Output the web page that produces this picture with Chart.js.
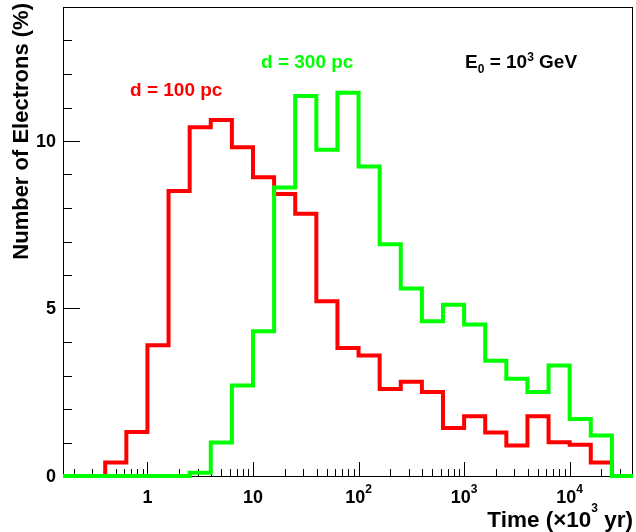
<!DOCTYPE html>
<html>
<head>
<meta charset="utf-8">
<script src="https://cdn.jsdelivr.net/npm/chart.js@4/dist/chart.umd.min.js"></script>
<style>
  html, body { margin: 0; padding: 0; background: #fff; }
  #wrap { width: 636px; height: 532px; }
</style>
</head>
<body>
<div id="wrap"><canvas id="chart" width="636" height="532"></canvas></div>
<script>
// bin edges as log10(time / 10^3 yr), 0.2 decade bins
const binEdgeExp = [-0.8, -0.6, -0.4, -0.2, 0.0, 0.2, 0.4, 0.6, 0.8, 1.0, 1.2, 1.4, 1.6, 1.8,
    2.0, 2.2, 2.4, 2.6, 2.8, 3.0, 3.2, 3.4, 3.6, 3.8, 4.0, 4.2, 4.4, 4.6];

// percent of electrons per bin
const red100pc = [0, 0, 0.40, 1.31, 3.90, 8.51, 10.41, 10.63, 9.81, 8.92, 8.42, 7.83, 5.22, 3.82,
    3.60, 2.60, 2.81, 2.51, 1.43, 1.78, 1.30, 0.91, 1.78, 1.01, 0.93, 0.40, 0];
const green300pc = [0, 0, 0, 0, 0, 0, 0.10, 1.00, 2.70, 4.32, 8.61, 11.34, 9.74, 11.44,
    9.24, 6.92, 5.60, 4.62, 5.11, 4.52, 3.44, 2.90, 2.51, 3.30, 1.70, 1.21, 0];

const xTickValues = [1, 10, 100, 1000, 10000];
const xTickLabels = [['1', ''], ['10', ''], ['10', '2'], ['10', '3'], ['10', '4']];
const yTickValues = [0, 5, 10];
const yMax = 14;

const FONT = "'Liberation Sans', Arial, Helvetica, sans-serif";

function toSteps(vals) {
    return binEdgeExp.map((e, i) => ({ x: Math.pow(10, e), y: vals[Math.min(i, vals.length - 1)] }));
}

// draw a run of text pieces: {t, size, dy}
function drawParts(ctx, parts, x, y, align) {
    let total = 0;
    parts.forEach(p => {
        ctx.font = `bold ${p.size}px ${FONT}`;
        p.w = ctx.measureText(p.t).width;
        total += p.w;
    });
    let cx = x;
    if (align === 'center') cx = x - total / 2;
    if (align === 'right') cx = x - total;
    ctx.textAlign = 'left';
    ctx.textBaseline = 'alphabetic';
    parts.forEach(p => {
        ctx.font = `bold ${p.size}px ${FONT}`;
        ctx.fillText(p.t, cx, y + (p.dy || 0));
        cx += p.w;
    });
}

const rootAxes = {
    id: 'rootAxes',
    beforeDatasetsDraw(chart) {
        const { ctx, chartArea: a, scales: { x, y } } = chart;
        ctx.save();
        ctx.strokeStyle = '#000';
        ctx.lineWidth = 1;
        ctx.strokeRect(a.left + 0.5, a.top + 0.5, a.right - a.left - 1, a.bottom - a.top);

        ctx.beginPath();
        for (let v = 0; v <= yMax; v++) {
            const py = Math.round(y.getPixelForValue(v)) + 0.5;
            const len = v % 5 === 0 ? 17 : 9;
            ctx.moveTo(a.left, py);
            ctx.lineTo(a.left + len, py);
        }
        for (let d = -1; d <= 4; d++) {
            for (let m = 1; m <= 9; m++) {
                const v = m * Math.pow(10, d);
                if (v < x.min || v > x.max) continue;
                const px = Math.round(x.getPixelForValue(v)) + 0.5;
                const len = m === 1 ? 14 : 7;
                ctx.moveTo(px, a.bottom);
                ctx.lineTo(px, a.bottom - len);
            }
        }
        ctx.stroke();
        ctx.restore();
    },
    afterDraw(chart) {
        const { ctx, chartArea: a, scales: { x, y } } = chart;
        ctx.save();
        ctx.fillStyle = '#000';

        // y tick labels
        ctx.font = `bold 18px ${FONT}`;
        ctx.textAlign = 'right';
        ctx.textBaseline = 'middle';
        yTickValues.forEach(v => {
            ctx.fillText(String(v), a.left - 7, y.getPixelForValue(v) + 1);
        });

        // x tick labels
        xTickValues.forEach((v, i) => {
            const [base, sup] = xTickLabels[i];
            const parts = [{ t: base, size: 18 }];
            if (sup) parts.push({ t: sup, size: 12, dy: -10 });
            drawParts(ctx, parts, x.getPixelForValue(v), a.bottom + 27, 'center');
        });

        // axis titles
        drawParts(ctx, [
            { t: 'Time (\u00d710', size: 22.5 },
            { t: '3', size: 12, dy: -15 },
            { t: ' yr)', size: 22.5 }
        ], a.right, 527, 'right');

        ctx.save();
        ctx.translate(28, 3);
        ctx.rotate(-Math.PI / 2);
        ctx.font = `bold 22px ${FONT}`;
        ctx.textAlign = 'right';
        ctx.textBaseline = 'alphabetic';
        ctx.fillText('Number of Electrons (%)', 0, 0);
        ctx.restore();

        // annotations
        ctx.fillStyle = '#ff0000';
        drawParts(ctx, [{ t: 'd = 100 pc', size: 19 }], 130, 96, 'left');
        ctx.fillStyle = '#00ff00';
        drawParts(ctx, [{ t: 'd = 300 pc', size: 19 }], 261, 68, 'left');
        ctx.fillStyle = '#000';
        drawParts(ctx, [
            { t: 'E', size: 19 },
            { t: '0', size: 12, dy: 5 },
            { t: ' = 10', size: 19 },
            { t: '3', size: 12, dy: -7 },
            { t: ' GeV', size: 19 }
        ], 465, 68, 'left');
        ctx.restore();
    }
};

new Chart(document.getElementById('chart').getContext('2d'), {
    type: 'line',
    data: {
        datasets: [
            {
                label: 'd = 100 pc',
                data: toSteps(red100pc),
                borderColor: '#ff0000',
                borderWidth: 4,
                stepped: 'before',
                pointRadius: 0,
                fill: false,
                clip: 4,
                order: 2
            },
            {
                label: 'd = 300 pc',
                data: toSteps(green300pc),
                borderColor: '#00ff00',
                borderWidth: 4,
                stepped: 'before',
                pointRadius: 0,
                fill: false,
                clip: 4,
                order: 1
            }
        ]
    },
    options: {
        responsive: false,
        animation: false,
        devicePixelRatio: 1,
        layout: { padding: { left: 63, top: 7, right: 3, bottom: 56 } },
        plugins: { legend: { display: false }, tooltip: { enabled: false } },
        scales: {
            x: { type: 'logarithmic', min: Math.pow(10, -0.8), max: Math.pow(10, 4.6), display: false },
            y: { type: 'linear', min: 0, max: yMax, display: false }
        }
    },
    plugins: [rootAxes]
});
</script>
</body>
</html>
